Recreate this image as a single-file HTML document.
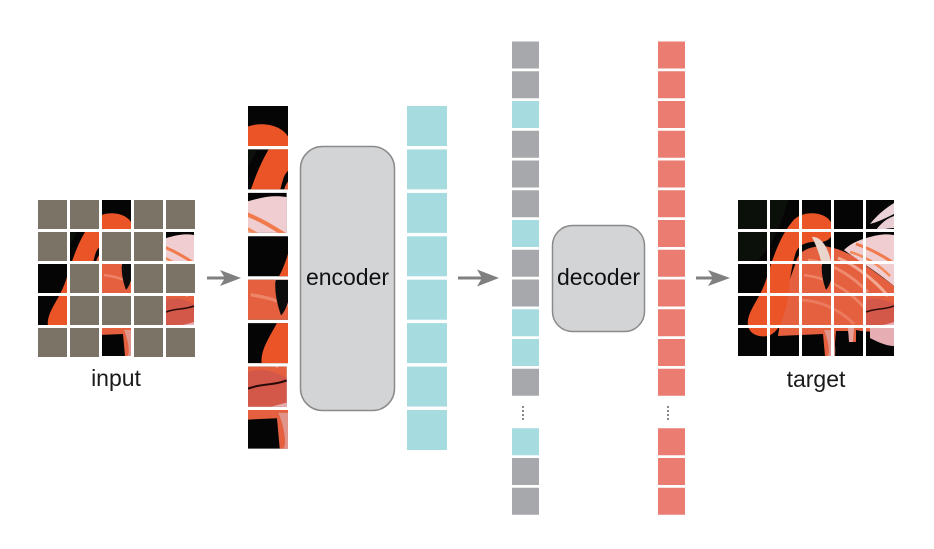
<!DOCTYPE html>
<html>
<head>
<meta charset="utf-8">
<style>
html,body{margin:0;padding:0;background:#fff;}
svg{display:block;}
text{font-family:"Liberation Sans",Arial,sans-serif;}
</style>
</head>
<body>
<svg width="934" height="549" viewBox="0 0 934 549" xmlns="http://www.w3.org/2000/svg">
<defs>
<g id="fl">
 <rect width="156" height="156" fill="#050505"/>
 <path d="M0 0 H50 C45 20 35 45 20 60 L0 62Z" fill="#10150d" opacity=".7"/>
 <path d="M132 24 C140 14 148 8 156 3 V14 C148 18 140 22 132 24Z" fill="#ead2d6"/>
 <path d="M138 30 C144 22 150 18 156 16 V28 C150 28 144 30 138 30Z" fill="#e9cfd3"/>
 <path d="M106 50 C112 44 120 40 132 37 C142 34 150 34 156 35 V86 C146 78 136 70 124 63 C116 57 110 53 106 50Z" fill="#f0cdd0"/>
 <path d="M58 62 C60 52 70 46 86 46 C100 48 114 54 124 63 C136 71 148 80 156 86 V126 C146 132 132 133 118 130 V142 H112 L110 131 H98 L96 156 H87 L85 134 L40 136 L46 96Z" fill="#e5603e"/>
 <path d="M70 60 C90 62 110 72 130 92" stroke="#ef8a6e" stroke-width="3" fill="none"/>
 <path d="M66 75 C90 78 112 90 128 110" stroke="#ee8568" stroke-width="2.5" fill="none"/>
 <path d="M100 58 C115 64 135 78 150 96" stroke="#f3a892" stroke-width="3" fill="none"/>
 <path d="M60 100 C80 100 100 108 116 124" stroke="#ec7a5e" stroke-width="3" fill="none"/>
 <path d="M118 44 C130 48 142 54 154 62" stroke="#f07a4c" stroke-width="3" fill="none"/>
 <path d="M112 52 C126 56 140 64 152 76" stroke="#f28a5c" stroke-width="2.5" fill="none"/>
 <path d="M128 100 C138 96 148 100 156 104 V126 C146 130 136 130 128 126Z" fill="#d4584a"/>
 <path d="M128 112 C138 108 146 110 156 106" stroke="#2a0a08" stroke-width="1.5" fill="none"/>
 <path d="M132 128 C140 126 150 124 156 122 V146 C148 146 140 142 132 138Z" fill="#e6aeb2"/>
 <path d="M86 130 C90 140 92 150 90 156 H97 C98 146 96 138 94 130Z" fill="#e0948a"/>
 <path d="M110 128 L116 128 L115 142 L111 142Z" fill="#e6a09a"/>
 <path d="M54 22 C62 10 88 10 94 24 C97 34 92 41 84 42 C72 41 62 43 58 52 C54 64 52 78 50 96 C47 116 42 132 30 136 C18 138 8 132 10 120 C12 108 22 98 28 80 C34 60 42 36 54 22Z" fill="#eb5426"/>
 <path d="M74 37 C82 36 90 46 93 62 L94 66 H84 C82 55 78 45 74 37Z" fill="#e9d5cb"/>
 <path d="M84 64 H94 C95 76 93 84 88 90 C85 82 83 72 84 64Z" fill="#0c0c0c"/>
</g>
</defs>

<!-- INPUT GRID -->
<g fill="#7b7466">
 <rect x="38" y="200" width="29" height="29"/>
 <rect x="70" y="200" width="29" height="29"/>
 <rect x="134" y="200" width="29" height="29"/>
 <rect x="166" y="200" width="29" height="29"/>
 <rect x="38" y="232" width="29" height="29"/>
 <rect x="102" y="232" width="29" height="29"/>
 <rect x="134" y="232" width="29" height="29"/>
 <rect x="70" y="264" width="29" height="29"/>
 <rect x="134" y="264" width="29" height="29"/>
 <rect x="166" y="264" width="29" height="29"/>
 <rect x="70" y="296" width="29" height="29"/>
 <rect x="102" y="296" width="29" height="29"/>
 <rect x="134" y="296" width="29" height="29"/>
 <rect x="38" y="328" width="29" height="29"/>
 <rect x="70" y="328" width="29" height="29"/>
 <rect x="134" y="328" width="29" height="29"/>
 <rect x="166" y="328" width="29" height="29"/>
</g>
<svg x="102" y="200" width="29" height="29" viewBox="64 0 29 29"><use href="#fl"/></svg>
<svg x="70" y="232" width="29" height="29" viewBox="32 32 29 29"><use href="#fl"/></svg>
<svg x="166" y="232" width="29" height="29" viewBox="128 32 29 29"><use href="#fl"/></svg>
<svg x="38" y="264" width="29" height="29" viewBox="0 64 29 29"><use href="#fl"/></svg>
<svg x="102" y="264" width="29" height="29" viewBox="64 64 29 29"><use href="#fl"/></svg>
<svg x="38" y="296" width="29" height="29" viewBox="0 96 29 29"><use href="#fl"/></svg>
<svg x="166" y="296" width="29" height="29" viewBox="128 96 29 29"><use href="#fl"/></svg>
<svg x="102" y="328" width="29" height="29" viewBox="64 128 29 29"><use href="#fl"/></svg>
<text x="116" y="386" font-size="23" text-anchor="middle" fill="#1a1a1a">input</text>

<!-- ARROW 1 -->
<line x1="207" y1="278" x2="228" y2="278" stroke="#808080" stroke-width="3"/>
<polygon points="220,270 241,278 220,286 225,278" fill="#808080"/>

<!-- ENCODER PATCHES -->
<svg x="248" y="106" width="40" height="40" viewBox="64 0 29 29" preserveAspectRatio="none"><use href="#fl"/></svg>
<svg x="248" y="149.4" width="40" height="40" viewBox="32 32 29 29" preserveAspectRatio="none"><use href="#fl"/></svg>
<svg x="248" y="192.9" width="40" height="40" viewBox="128 32 29 29" preserveAspectRatio="none"><use href="#fl"/></svg>
<svg x="248" y="236.3" width="40" height="40" viewBox="0 64 29 29" preserveAspectRatio="none"><use href="#fl"/></svg>
<svg x="248" y="279.7" width="40" height="40" viewBox="64 64 29 29" preserveAspectRatio="none"><use href="#fl"/></svg>
<svg x="248" y="323.1" width="40" height="40" viewBox="0 96 29 29" preserveAspectRatio="none"><use href="#fl"/></svg>
<svg x="248" y="366.6" width="40" height="40" viewBox="128 96 29 29" preserveAspectRatio="none"><use href="#fl"/></svg>
<svg x="248" y="410" width="40" height="40" viewBox="64 128 29 29" preserveAspectRatio="none"><use href="#fl"/></svg>

<!-- ENCODER -->
<rect x="300.5" y="146.5" width="94" height="264" rx="22" ry="22" fill="#d3d4d6" stroke="#8a8a8a" stroke-width="1.5"/>
<text x="347.5" y="285" font-size="23" text-anchor="middle" fill="#111">encoder</text>

<!-- CYAN TOKENS -->
<g fill="#a6dce0">
 <rect x="407" y="106" width="40" height="40"/>
 <rect x="407" y="149.4" width="40" height="40"/>
 <rect x="407" y="192.9" width="40" height="40"/>
 <rect x="407" y="236.3" width="40" height="40"/>
 <rect x="407" y="279.7" width="40" height="40"/>
 <rect x="407" y="323.1" width="40" height="40"/>
 <rect x="407" y="366.6" width="40" height="40"/>
 <rect x="407" y="410" width="40" height="40"/>
</g>

<!-- ARROW 2 -->
<line x1="458" y1="278" x2="485" y2="278" stroke="#808080" stroke-width="3"/>
<polygon points="477,269.5 499,278 477,286.5 482,278" fill="#808080"/>

<!-- FULL TOKEN COLUMN -->
<g>
 <rect x="512" y="41.5" width="27" height="27" fill="#a7a8ab"/>
 <rect x="512" y="71.25" width="27" height="27" fill="#a7a8ab"/>
 <rect x="512" y="101" width="27" height="27" fill="#a6dce0"/>
 <rect x="512" y="130.75" width="27" height="27" fill="#a7a8ab"/>
 <rect x="512" y="160.5" width="27" height="27" fill="#a7a8ab"/>
 <rect x="512" y="190.25" width="27" height="27" fill="#a7a8ab"/>
 <rect x="512" y="220" width="27" height="27" fill="#a6dce0"/>
 <rect x="512" y="249.75" width="27" height="27" fill="#a7a8ab"/>
 <rect x="512" y="279.5" width="27" height="27" fill="#a7a8ab"/>
 <rect x="512" y="309.25" width="27" height="27" fill="#a6dce0"/>
 <rect x="512" y="339" width="27" height="27" fill="#a6dce0"/>
 <rect x="512" y="368.75" width="27" height="27" fill="#a7a8ab"/>
 <rect x="512" y="428.25" width="27" height="27" fill="#a6dce0"/>
 <rect x="512" y="458" width="27" height="27" fill="#a7a8ab"/>
 <rect x="512" y="487.75" width="27" height="27" fill="#a7a8ab"/>
</g>
<g fill="#333">
 <circle cx="523" cy="407" r="0.9"/><circle cx="523" cy="411" r="0.9"/><circle cx="523" cy="415" r="0.9"/><circle cx="523" cy="419" r="0.9"/>
</g>

<!-- DECODER -->
<rect x="552.5" y="225.5" width="92" height="106" rx="20" ry="20" fill="#d3d4d6" stroke="#8a8a8a" stroke-width="1.5"/>
<text x="598.5" y="285" font-size="23" text-anchor="middle" fill="#111">decoder</text>

<!-- RED OUTPUT COLUMN -->
<g fill="#ea7c72">
 <rect x="658" y="41.5" width="27" height="27"/>
 <rect x="658" y="71.25" width="27" height="27"/>
 <rect x="658" y="101" width="27" height="27"/>
 <rect x="658" y="130.75" width="27" height="27"/>
 <rect x="658" y="160.5" width="27" height="27"/>
 <rect x="658" y="190.25" width="27" height="27"/>
 <rect x="658" y="220" width="27" height="27"/>
 <rect x="658" y="249.75" width="27" height="27"/>
 <rect x="658" y="279.5" width="27" height="27"/>
 <rect x="658" y="309.25" width="27" height="27"/>
 <rect x="658" y="339" width="27" height="27"/>
 <rect x="658" y="368.75" width="27" height="27"/>
 <rect x="658" y="428.25" width="27" height="27"/>
 <rect x="658" y="458" width="27" height="27"/>
 <rect x="658" y="487.75" width="27" height="27"/>
</g>
<g fill="#333">
 <circle cx="668" cy="407" r="0.9"/><circle cx="668" cy="411" r="0.9"/><circle cx="668" cy="415" r="0.9"/><circle cx="668" cy="419" r="0.9"/>
</g>

<!-- ARROW 3 -->
<line x1="696" y1="278" x2="718" y2="278" stroke="#808080" stroke-width="3"/>
<polygon points="708,270 730,278 708,286 713,278" fill="#808080"/>

<!-- TARGET -->
<svg x="738" y="200" width="156" height="156" viewBox="0 0 156 156"><use href="#fl"/></svg>
<g fill="#fff">
 <rect x="767" y="198" width="3" height="160"/>
 <rect x="799" y="198" width="3" height="160"/>
 <rect x="831" y="198" width="3" height="160"/>
 <rect x="863" y="198" width="3" height="160"/>
 <rect x="736" y="229" width="160" height="3"/>
 <rect x="736" y="261" width="160" height="3"/>
 <rect x="736" y="293" width="160" height="3"/>
 <rect x="736" y="325" width="160" height="3"/>
</g>
<text x="816" y="387" font-size="23" text-anchor="middle" fill="#1a1a1a">target</text>
</svg>
</body>
</html>
